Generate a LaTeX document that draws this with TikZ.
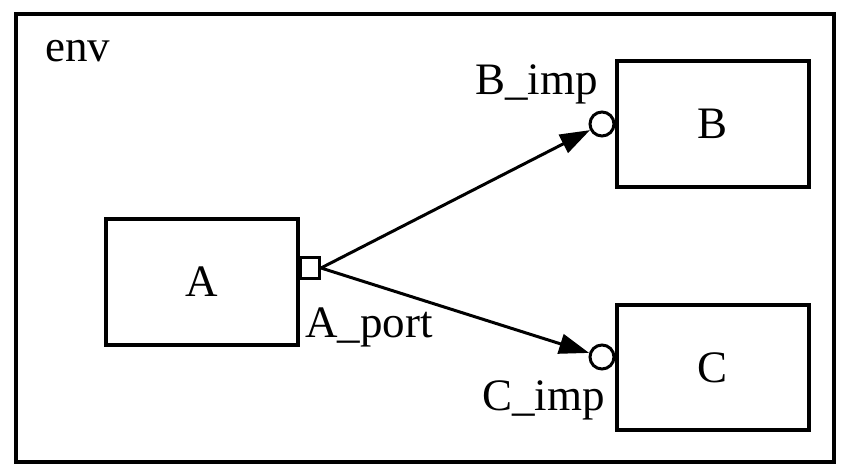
\documentclass[tikz,border=0pt]{standalone}
\usepackage{fontspec}
\setmainfont{Liberation Serif}
\usetikzlibrary{arrows.meta}
\begin{document}
\begin{tikzpicture}[x=1pt,y=-1pt,
  every node/.style={font=\fontsize{45}{54}\selectfont},
  block/.style={draw, line width=4pt, inner sep=0pt, minimum width=192pt, minimum height=126pt},
  portsq/.style={draw, line width=3pt, fill=white, inner sep=0pt, minimum width=19pt, minimum height=21pt},
  impc/.style={draw, circle, line width=3pt, fill=white, inner sep=0pt, minimum size=24pt},
  lbl/.style={anchor=base west, inner sep=0pt},
  conn/.style={line width=3pt, -{Triangle[length=30pt,width=20pt]}}]
\useasboundingbox (0,0) rectangle (852,476);
\node[draw, line width=4pt, inner sep=0pt, minimum width=818pt, minimum height=448pt] (env) at (425,238) {};
\node[lbl] (envlbl) at (45,62) {env};
\node[block] (A) at (202,282) {A};
\node[block] (B) at (713,124) {B};
\node[block, minimum height=125pt] (C) at (713,367.5) {C};
\node[portsq] (port) at (310,268) {};
\node[impc] (Bimp) at (602,124) {};
\node[impc] (Cimp) at (602,357) {};
\node[lbl] (Bl) at (475,95) {B\_imp};
\node[lbl] (Cl) at (482,410) {C\_imp};
\node[lbl] (Al) at (305,337) {A\_port};
\draw[conn] (port.east) -- (Bimp);
\draw[conn] (port.east) -- (Cimp);
\end{tikzpicture}
\end{document}
